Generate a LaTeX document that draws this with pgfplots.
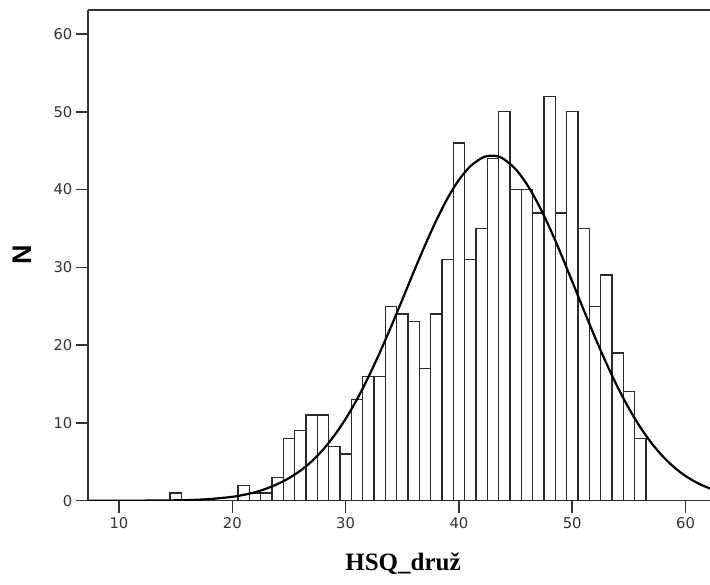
\documentclass[border=0pt]{standalone}
\usepackage{fontspec}
\usepackage{pgfplots}
\pgfplotsset{compat=1.18}
\newfontfamily\tickfont{DejaVu Sans}
\newfontfamily\labsans{Liberation Sans}
\newfontfamily\labserif{Liberation Serif}
\definecolor{axgray}{HTML}{333333}
\definecolor{bargray}{HTML}{2A2A2A}
\begin{document}
\begin{tikzpicture}
\path[use as bounding box] (0,0) rectangle (355pt,292pt);
\begin{axis}[
  at={(44pt,41.65pt)}, anchor=south west,
  scale only axis, width=311pt, height=245.35pt,
  xmin=7.264, xmax=62.16, ymin=0, ymax=63.09,
  axis x line=box, axis y line=left,
  axis line style={-, draw=axgray, line width=0.75pt},
  xtick={10,20,30,40,50,60}, ytick={0,10,20,30,40,50,60},
  xtick pos=left, ytick pos=left,
  tick align=outside, major tick length=6pt,
  tick style={draw=axgray, line width=0.75pt},
  minor tick num=0,
  /pgf/number format/assume math mode=true,
  ticklabel style={font=\tickfont\fontsize{7.4}{8}\selectfont, text=axgray},
  yticklabel style={inner sep=1.6pt},
  xticklabel style={inner sep=2.4pt},
  xlabel={\labserif\bfseries\fontsize{12.5}{14}\selectfont HSQ\_druž},
  xlabel style={at={(axis description cs:0.5064,-0.1427)}, anchor=base},
  ylabel={\labsans\bfseries\fontsize{13.5}{15}\selectfont N},
  ylabel style={at={(axis description cs:-0.1061,0.5007)}, anchor=center},
]
\addplot[ybar, bar width=1, bar shift=0pt, fill=white, draw=bargray, line width=0.65pt]
coordinates {
(15,1) (21,2) (22,1) (23,1) (24,3) (25,8) (26,9) (27,11) (28,11) (29,7)
(30,6) (31,13) (32,16) (33,16) (34,25) (35,24) (36,23) (37,17) (38,24) (39,31)
(40,46) (41,31) (42,35) (43,44) (44,50) (45,40) (46,40) (47,37) (48,52) (49,37)
(50,50) (51,35) (52,25) (53,29) (54,19) (55,14) (56,8)
};
\addplot[smooth, black, line width=1.1pt, mark=none]
coordinates {
(7,0) (10,0.004) (12,0.011) (14,0.03) (16,0.08) (18,0.21) (20,0.50) (21,0.75)
(22,1.08) (23,1.55) (24,2.15) (25,2.90) (26,3.85) (27,5.05) (28,6.55) (29,8.37)
(30,10.52) (31,13.02) (32,15.86) (33,18.99) (34,22.34) (35,25.84) (36,29.38)
(37,32.82) (38,36.03) (39,38.89) (40,41.25) (41,42.99) (42,44.05) (42.5,44.3)
(43,44.36) (43.5,44.25) (44,43.88) (45,42.63) (46,40.68) (47,38.13) (48,35.11)
(49,31.74) (50,28.18) (51,24.57) (52,21.05) (53,17.71) (54,14.63) (55,11.87)
(56,9.46) (57,7.40) (58,5.69) (59,4.29) (60,3.18) (61,2.32) (62,1.66) (63,1.17)
};
\end{axis}
\end{tikzpicture}
\end{document}
